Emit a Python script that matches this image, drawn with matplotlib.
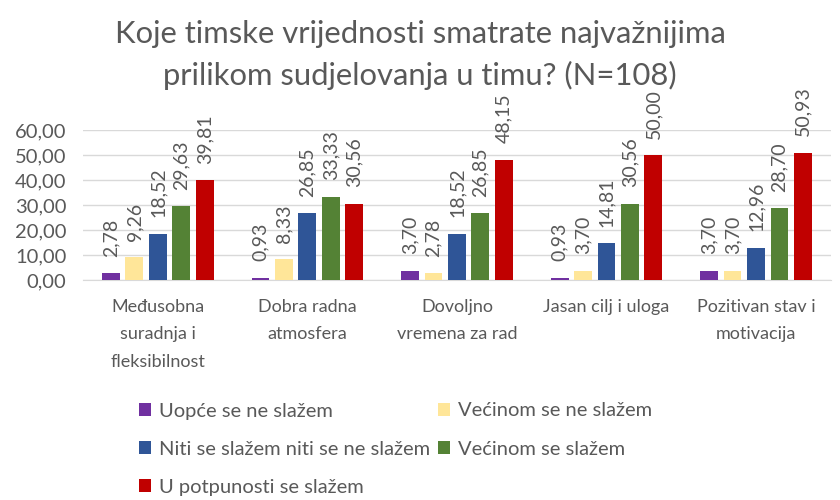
import numpy as np
import matplotlib
matplotlib.use('Agg')
import matplotlib.pyplot as plt

plt.rcParams['font.family'] = ['Lato', 'DejaVu Sans']

categories = ['Međusobna\nsuradnja i\nfleksibilnost', 'Dobra radna\natmosfera',
              'Dovoljno\nvremena za rad', 'Jasan cilj i uloga', 'Pozitivan stav i\nmotivacija']
series_names = ['Uopće se ne slažem', 'Većinom se ne slažem',
                'Niti se slažem niti se ne slažem', 'Većinom se slažem',
                'U potpunosti se slažem']
uopce = [2.78, 0.93, 3.70, 0.93, 3.70]
vecinom_ne = [9.26, 8.33, 2.78, 3.70, 3.70]
niti = [18.52, 26.85, 18.52, 14.81, 12.96]
vecinom_da = [29.63, 33.33, 26.85, 30.56, 28.70]
potpuno = [39.81, 30.56, 48.15, 50.00, 50.93]
yticks = [0, 10, 20, 30, 40, 50, 60]

series = [uopce, vecinom_ne, niti, vecinom_da, potpuno]
colors = ['#7030A0', '#FFE699', '#2F5597', '#548235', '#C00000']
gray = '#595959'

fig = plt.figure(figsize=(8.4, 5.0), dpi=100)
ax = fig.add_axes([0.099, 0.44, 0.89, 0.30])

x = np.arange(len(categories))
step = 0.157
width = 0.12
for i, (vals, col, name) in enumerate(zip(series, colors, series_names)):
    pos = x + (i - 2) * step
    ax.bar(pos, vals, width, color=col, label=name, zorder=3)
    for p, v in zip(pos, vals):
        ax.text(p, v + 6.5, f'{v:.2f}'.replace('.', ','), rotation=90,
                ha='center', va='bottom', fontsize=14, color=gray)

ax.set_xlim(-0.5, len(categories) - 0.5)
ax.set_ylim(0, 60)
ax.set_yticks(yticks)
ax.set_yticklabels([f'{t:.2f}'.replace('.', ',') for t in yticks], fontsize=14.5, color=gray)
ax.set_xticks(x)
ax.set_xticklabels(categories, fontsize=13, color=gray, linespacing=1.85, va='top')
ax.tick_params(axis='y', length=0, pad=12)
ax.tick_params(axis='x', length=0, pad=14)
ax.grid(axis='y', color='#D9D9D9', linewidth=1, zorder=0)
for s in ['top', 'right', 'left']:
    ax.spines[s].set_visible(False)
ax.spines['bottom'].set_color('#D9D9D9')

fig.text(0.5, 0.89, 'Koje timske vrijednosti smatrate najvažnijima\nprilikom sudjelovanja u timu? (N=108)',
         fontsize=22.3, color=gray, ha='center', va='center', linespacing=1.5)

# legend filled row by row like the original
handles, labels = ax.get_legend_handles_labels()
order = [0, 2, 4, 1, 3]
fig.legend([handles[k] for k in order], [labels[k] for k in order],
           loc='upper left', bbox_to_anchor=(0.165, 0.195), ncol=2,
           frameon=False, fontsize=14.5, labelcolor=gray, handlelength=0.6, handleheight=0.6,
           handletextpad=0.4, columnspacing=0.4, labelspacing=1.05, borderpad=0, borderaxespad=0)

fig.savefig('out.png', dpi=100)
